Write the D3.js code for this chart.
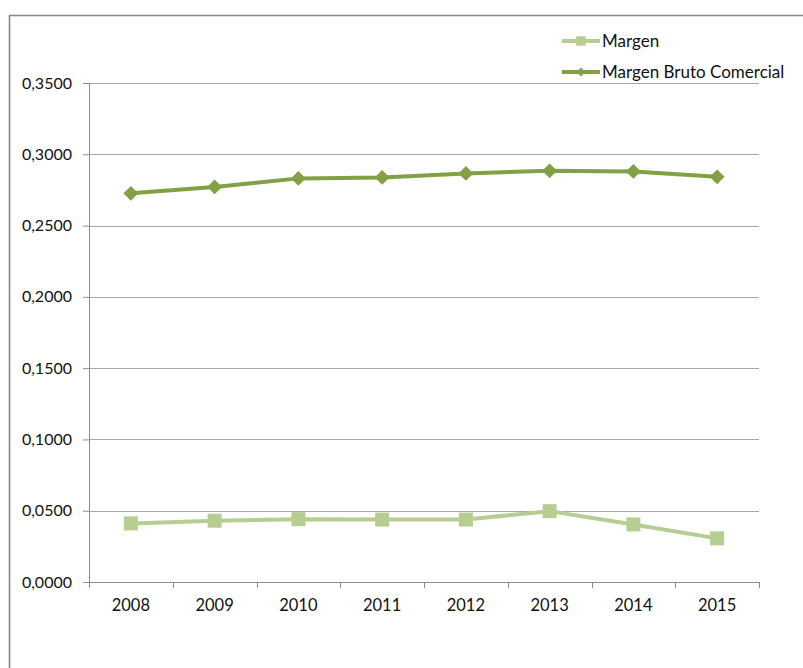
<!DOCTYPE html>
<html>
<head>
<meta charset="utf-8">
<script src="https://cdn.jsdelivr.net/npm/d3@7"></script>
<style>
  html, body { margin: 0; padding: 0; background: #fff; }
  svg { display: block; }
  text { font-family: Lato, "Open Sans", sans-serif; fill: #111; }
</style>
</head>
<body>
<svg id="chart" width="803" height="668"></svg>
<script>
// Yearly figures
const years = ["2008", "2009", "2010", "2011", "2012", "2013", "2014", "2015"];
const margen = [0.0411, 0.0430, 0.0441, 0.0438, 0.0438, 0.0497, 0.0404, 0.0306];
const margenBrutoComercial = [0.2726, 0.2771, 0.2831, 0.2838, 0.2866, 0.2884, 0.2880, 0.2842];
const yTicks = [0, 0.05, 0.10, 0.15, 0.20, 0.25, 0.30, 0.35];
const seriesNames = ["Margen", "Margen Bruto Comercial"];

const svg = d3.select("#chart");
const W = 803, H = 668;
const plot = { left: 89, right: 759, top: 83, bottom: 582 };

const colMargen = "#b7cd92";
const colBruto = "#82a046";
const axisCol = "#8c8c8c";
const gridCol = "#a6a6a6";

// Chart frame
svg.append("path")
  .attr("d", `M9.5,${H + 5} V15.5 H${W + 5}`)
  .attr("fill", "none").attr("stroke", "#878787").attr("stroke-width", 1.6);

const x = d3.scaleBand().domain(years).range([plot.left, plot.right]).padding(0);
const y = d3.scaleLinear().domain([0, 0.35]).range([plot.bottom, plot.top]);

const fmt = v => d3.format(".4f")(v).replace(".", ",");

// Horizontal gridlines
svg.append("g").selectAll("line").data(yTicks.filter(t => t > 0)).join("line")
  .attr("x1", plot.left).attr("x2", plot.right)
  .attr("y1", d => Math.round(y(d)) + 0.5).attr("y2", d => Math.round(y(d)) + 0.5)
  .attr("stroke", gridCol).attr("stroke-width", 1);

// Y axis
const yAxis = svg.append("g")
  .attr("transform", `translate(${plot.left},0)`)
  .call(d3.axisLeft(y).tickValues(yTicks).tickFormat(fmt).tickSize(6).tickPadding(11));
yAxis.select(".domain").attr("stroke", axisCol);
yAxis.selectAll(".tick line").attr("stroke", axisCol);
yAxis.selectAll("text").style("font-size", "16px").attr("fill", "#111")
  .style("font-family", "Lato, 'Open Sans', sans-serif");

// X axis with ticks at the category boundaries
const xAxis = svg.append("g")
  .attr("transform", `translate(0,${plot.bottom})`)
  .call(d3.axisBottom(x).tickSize(0).tickPadding(17));
xAxis.select(".domain").remove();
xAxis.selectAll("text").style("font-size", "16.5px").attr("fill", "#111")
  .style("font-family", "Lato, 'Open Sans', sans-serif");
svg.append("line")
  .attr("x1", plot.left).attr("x2", plot.right)
  .attr("y1", plot.bottom + 0.5).attr("y2", plot.bottom + 0.5)
  .attr("stroke", axisCol);
const bounds = years.map(d => x(d)).concat([plot.right]);
svg.append("g").selectAll("line").data(bounds).join("line")
  .attr("x1", d => Math.round(d) + 0.5).attr("x2", d => Math.round(d) + 0.5)
  .attr("y1", plot.bottom).attr("y2", plot.bottom + 6)
  .attr("stroke", axisCol);

const cx = d => x(d) + x.bandwidth() / 2;
const line = d3.line().x(d => cx(d.year)).y(d => y(d.v));

// Square markers, optionally turned 45° to form diamonds
function drawSeries(values, color, rotate, size) {
  const pts = years.map((yr, i) => ({ year: yr, v: values[i] }));
  svg.append("path").datum(pts)
    .attr("d", line).attr("fill", "none")
    .attr("stroke", color).attr("stroke-width", 4).attr("stroke-linejoin", "round");
  svg.append("g").selectAll("path").data(pts).join("path")
    .attr("transform", d => `translate(${cx(d.year)},${y(d.v)}) rotate(${rotate})`)
    .attr("d", d3.symbol().type(d3.symbolSquare).size(size))
    .attr("fill", color);
}

drawSeries(margen, colMargen, 0, 196);
drawSeries(margenBrutoComercial, colBruto, 45, 110);

// Legend
const legend = svg.append("g");
const legendRows = [
  { name: seriesNames[0], color: colMargen, rotate: 0, size: 90, y: 41 },
  { name: seriesNames[1], color: colBruto, rotate: 45, size: 40, y: 72 }
];
legendRows.forEach(r => {
  legend.append("line")
    .attr("x1", 562).attr("x2", 600).attr("y1", r.y).attr("y2", r.y)
    .attr("stroke", r.color).attr("stroke-width", 4);
  legend.append("path")
    .attr("transform", `translate(581,${r.y}) rotate(${r.rotate})`)
    .attr("d", d3.symbol().type(d3.symbolSquare).size(r.size))
    .attr("fill", r.color);
  legend.append("text")
    .attr("x", 602).attr("y", r.y).attr("dy", "0.35em")
    .style("font-size", "17px")
    .text(r.name);
});
</script>
</body>
</html>
